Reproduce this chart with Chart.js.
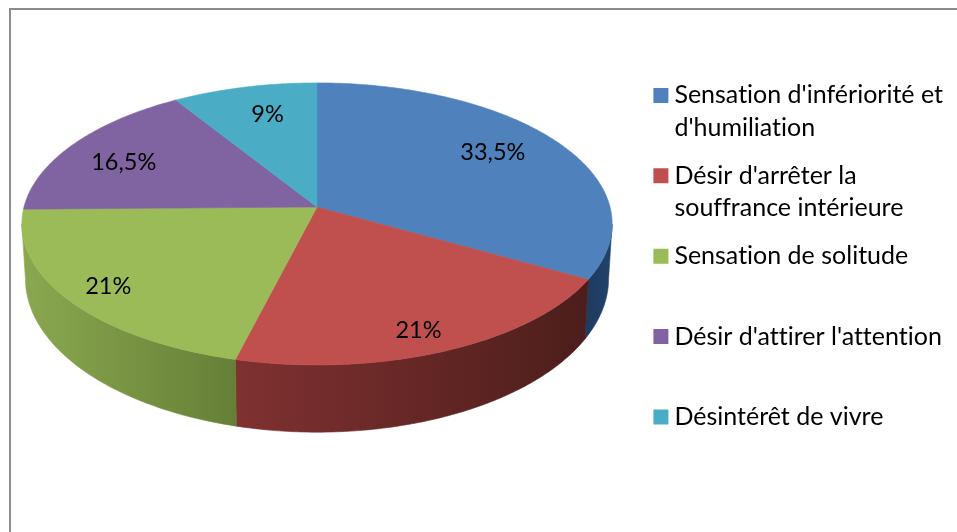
<!DOCTYPE html>
<html>
<head>
<meta charset="utf-8">
<style>html,body{margin:0;padding:0;background:#fff}canvas{display:block}</style>
<script src="https://cdn.jsdelivr.net/npm/chart.js@4"></script>
</head>
<body>
<div style="width:957px;height:532px"><canvas id="c" width="957" height="532"></canvas></div>
<script>
const categories = ["Sensation d'infériorité et d'humiliation","Désir d'arrêter la souffrance intérieure","Sensation de solitude","Désir d'attirer l'attention","Désintérêt de vivre"];
const values = [33.5,21,21,16.5,9];
const valueLabels = ["33,5%","21%","21%","16,5%","9%"];
const legendLines = [["Sensation d'infériorité et","d'humiliation"],["Désir d'arrêter la","souffrance intérieure"],["Sensation de solitude",""],["Désir d'attirer l'attention",""],["Désintérêt de vivre",""]];
const colors = ["#4f81bd","#c0504d","#9bbb59","#8064a2","#4bacc6"];
const wallColors = [["#1e3a5f","#22436b"],["#803131","#4c1e1b"],["#8aa84f","#667f37"],["#5f4a7a","#5f4a7a"],["#377f93","#377f93"]];
const labelRadius = [0.7,0.7,0.7,0.7,0.7];
const labelNudge = [[6,-7],[14,26],[-39,16],[-20,0],[3,-6]];

const CX=317,CY=207,RX=293,RY=139,K=0.12,WALL_SY=1.09,WALL_D=53,WALL_SX=0.988;
function proj(a,r){const u=Math.cos(a)*r,v=-Math.sin(a)*r,d=1+K*v;return {x:CX+RX*u/d,y:CY-RY*v/d};}
function low(p){return {x:CX+(p.x-CX)*WALL_SX,y:CY+(p.y-CY)*WALL_SY+WALL_D};}
const FRONT_A=Math.asin(K);
function drawTop(ctx){
  const o=this.options,s=this.startAngle,e=this.endAngle,n=Math.max(8,Math.ceil((e-s)*90));
  ctx.save();ctx.beginPath();ctx.moveTo(CX,CY);
  for(let i=0;i<=n;i++){const p=proj(s+(e-s)*i/n,1);ctx.lineTo(p.x,p.y);}
  ctx.closePath();ctx.fillStyle=o.backgroundColor;ctx.strokeStyle=o.backgroundColor;ctx.lineWidth=0.6;ctx.fill();ctx.stroke();ctx.restore();
}
const pie3d={id:'pie3d',
  beforeDraw(chart){const c=chart.ctx;c.fillStyle='#fff';c.fillRect(0,0,957,532);c.fillStyle='#8c8c8c';c.fillRect(9,8,948,2);c.fillRect(9,8,2,524);c.letterSpacing='0.001px';},
  afterLayout(chart){const l=chart.legend;const w=l.width;l.left=644.5;l.right=l.left+w;l.top=67.5;l.bottom=532;l.adjustHitBoxes();},
  beforeDatasetsDraw(chart){
    const ctx=chart.ctx,meta=chart.getDatasetMeta(0);
    meta.data.forEach((el,i)=>{
      el.draw=drawTop;
      const s=Math.max(el.startAngle,FRONT_A),e=Math.min(el.endAngle,Math.PI-FRONT_A);
      if(e<=s)return;
      const n=Math.ceil((e-s)*90),top=[],bot=[];
      for(let j=0;j<=n;j++){const p=proj(s+(e-s)*j/n,1);top.push(p);bot.push(low(p));}
      const xs=top.concat(bot).map(p=>p.x),x0=Math.min(...xs),x1=Math.max(...xs);
      const g=ctx.createLinearGradient(x0,0,x1,0);g.addColorStop(0,wallColors[i][0]);g.addColorStop(1,wallColors[i][1]);
      ctx.save();ctx.beginPath();top.forEach((p,j)=>j?ctx.lineTo(p.x,p.y):ctx.moveTo(p.x,p.y));
      bot.reverse().forEach(p=>ctx.lineTo(p.x,p.y));ctx.closePath();ctx.fillStyle=g;ctx.strokeStyle=g;ctx.lineWidth=0.6;ctx.fill();ctx.stroke();ctx.restore();
    });
  },
  afterDatasetsDraw(chart){
    const ctx=chart.ctx,meta=chart.getDatasetMeta(0);
    ctx.save();ctx.font='23.5px Lato';ctx.fillStyle='#000';ctx.textAlign='center';ctx.textBaseline='middle';
    meta.data.forEach((el,i)=>{const p=proj((el.startAngle+el.endAngle)/2,labelRadius[i]);ctx.fillText(valueLabels[i],p.x+labelNudge[i][0],p.y+labelNudge[i][1]);});
    ctx.restore();
  }
};
new Chart(document.getElementById('c'),{
  type:'pie',
  data:{labels:categories,datasets:[{data:values,backgroundColor:colors,borderWidth:0}]},
  options:{responsive:false,animation:false,
    plugins:{tooltip:{enabled:false},
      legend:{position:'chartArea',align:'start',
        labels:{boxWidth:2,boxHeight:2,padding:15.4,color:'#000',font:{family:'Lato',size:25,lineHeight:'32.5px'},
          generateLabels(){return categories.map((c,i)=>({text:legendLines[i],fillStyle:colors[i],strokeStyle:colors[i],fontColor:'#000',lineWidth:13,hidden:false,index:i,datasetIndex:0}));}}}}},
  plugins:[pie3d]
});
</script>
</body>
</html>
